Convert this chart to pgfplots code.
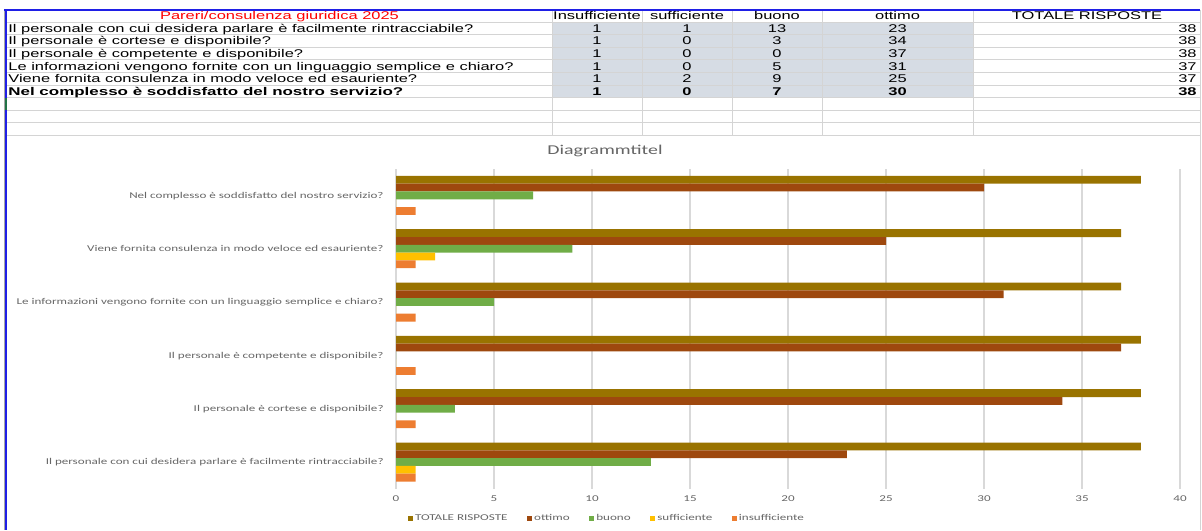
\documentclass[border=0pt]{standalone}
\usepackage{fontspec}
\usepackage{pgfplots}
\pgfplotsset{compat=1.18}
\newfontfamily\tabfont[FakeStretch=1.47]{Liberation Sans}
\newfontfamily\chartfont[FakeStretch=1.47]{Carlito}
\definecolor{cTot}{HTML}{997300}
\definecolor{cOtt}{HTML}{9E480E}
\definecolor{cBuo}{HTML}{70AD47}
\definecolor{cSuf}{HTML}{FFC000}
\definecolor{cIns}{HTML}{ED7D31}
\definecolor{cShade}{HTML}{D6DCE4}
\definecolor{gridc}{HTML}{D9D9D9}
\definecolor{tgrid}{HTML}{D4D4D4}
\definecolor{txtgray}{HTML}{666666}
\definecolor{xlblue}{HTML}{1F1FE6}
\definecolor{xlgreen}{HTML}{217346}
\newcommand\tf{\tabfont\fontsize{5.6pt}{6pt}\selectfont}
\newcommand\cf{\chartfont\fontsize{4.45pt}{5pt}\selectfont}
\newcommand\ttl{\chartfont\fontsize{6.75pt}{7pt}\selectfont}
\begin{document}
\begin{tikzpicture}
\useasboundingbox (0,0) rectangle (601pt,265pt);
\fill[white] (0,0) rectangle (601pt,265pt);
\begin{scope}[x=0.5pt,y=-0.5pt,shift={(0pt,265pt)}]
  \fill[cShade] (552,22.1) rectangle (973.5,97.7);
  \foreach \y in {22.1,34.7,47.3,59.9,72.5,85.1,97.7,110.3,122.9,135.5}
    \draw[tgrid,line width=0.5pt] (7,\y) -- (1200,\y);
  \foreach \x in {552,642,732,822,973.5,1200}
    \draw[tgrid,line width=0.5pt] (\x,10) -- (\x,135.5);
  \draw[tgrid,line width=0.5pt] (1200,135.5) -- (1200,530);
  \fill[gray!70] (4,10) rectangle (5.3,530);
  \fill[xlblue] (5.3,10) rectangle (7.3,530);
  \fill[xlblue] (4,9.3) rectangle (1200,10.8);
  \fill[xlgreen] (5.3,97.7) rectangle (7.3,110.3);
  % header
  \node[anchor=base,text=red,font=\tf,inner sep=0pt] at (279.5,20) {Pareri/consulenza giuridica 2025};
  \node[anchor=base,font=\tf,inner sep=0pt] at (597,20) {Insufficiente};
  \node[anchor=base,font=\tf,inner sep=0pt] at (687,20) {sufficiente};
  \node[anchor=base,font=\tf,inner sep=0pt] at (777,20) {buono};
  \node[anchor=base,font=\tf,inner sep=0pt] at (897.5,20) {ottimo};
  \node[anchor=base,font=\tf,inner sep=0pt] at (1087,20) {TOTALE RISPOSTE};
  % rows
  \foreach \yb/\lab/\a/\b/\c/\d/\t in {
    32.4/Il personale con cui desidera parlare è facilmente rintracciabile?/1/1/13/23/38,
    45.0/Il personale è cortese e disponibile?/1/0/3/34/38,
    57.6/Il personale è competente e disponibile?/1/0/0/37/38,
    70.2/Le informazioni vengono fornite con un linguaggio semplice e chiaro?/1/0/5/31/37,
    82.8/Viene fornita consulenza in modo veloce ed esauriente?/1/2/9/25/37}{
    \node[anchor=base west,font=\tf,inner sep=0pt] at (8,\yb) {\lab};
    \node[anchor=base,font=\tf,inner sep=0pt] at (597,\yb) {\a};
    \node[anchor=base,font=\tf,inner sep=0pt] at (687,\yb) {\b};
    \node[anchor=base,font=\tf,inner sep=0pt] at (777,\yb) {\c};
    \node[anchor=base,font=\tf,inner sep=0pt] at (897.5,\yb) {\d};
    \node[anchor=base east,font=\tf,inner sep=0pt] at (1197,\yb) {\t};
  }
  \node[anchor=base west,font=\tf\bfseries,inner sep=0pt,xscale=1.03] at (8,95.4) {Nel complesso è soddisfatto del nostro servizio?};
  \node[anchor=base,font=\tf\bfseries,inner sep=0pt] at (597,95.4) {1};
  \node[anchor=base,font=\tf\bfseries,inner sep=0pt] at (687,95.4) {0};
  \node[anchor=base,font=\tf\bfseries,inner sep=0pt] at (777,95.4) {7};
  \node[anchor=base,font=\tf\bfseries,inner sep=0pt] at (897.5,95.4) {30};
  \node[anchor=base east,font=\tf\bfseries,inner sep=0pt] at (1197,95.4) {38};
\end{scope}
\node[anchor=base,font=\ttl,text=txtgray,inner sep=0pt] at (302.5pt,187.8pt) {Diagrammtitel};
\begin{axis}[
  at={(198pt,20.65pt)}, anchor=south west,
  scale only axis, width=392pt, height=160pt,
  xmin=0, xmax=40, ymin=-0.5, ymax=5.5,
  xbar, bar width=3.9pt,
  xtick={0,5,...,40}, ytick={0,1,2,3,4,5},
  yticklabels={Il personale con cui desidera parlare è facilmente rintracciabile?,
    Il personale è cortese e disponibile?,
    Il personale è competente e disponibile?,
    Le informazioni vengono fornite con un linguaggio semplice e chiaro?,
    Viene fornita consulenza in modo veloce ed esauriente?,
    Nel complesso è soddisfatto del nostro servizio?},
  xmajorgrids, major grid style={gridc,line width=0.6pt},
  axis line style={draw=none}, major tick length=0pt,
  tick label style={font=\cf, text=txtgray},
  /pgf/number format/assume math mode=true,
  yticklabel style={anchor=base east, inner sep=0pt, xshift=-6pt, yshift=-1.43pt},
  xticklabel style={anchor=north, inner sep=0pt, yshift=-3.25pt},
  legend style={at={(0.269,-0.0945)}, anchor=center, draw=none, fill=none,
    legend columns=5, font=\cf,
    /tikz/every even column/.append style={column sep=8.5pt},
    nodes={inner sep=1.1pt, text=txtgray}},
  legend image code/.code={\fill[#1] (0pt,-1.25pt) rectangle (2.6pt,1.25pt);},
]
\addplot[fill=cTot, draw=none, bar shift=7.8pt] coordinates {(38,0) (38,1) (38,2) (37,3) (37,4) (38,5)};
\addlegendentry{TOTALE RISPOSTE}
\addplot[fill=cOtt, draw=none, bar shift=3.9pt] coordinates {(23,0) (34,1) (37,2) (31,3) (25,4) (30,5)};
\addlegendentry{ottimo}
\addplot[fill=cBuo, draw=none, bar shift=0pt] coordinates {(13,0) (3,1) (0,2) (5,3) (9,4) (7,5)};
\addlegendentry{buono}
\addplot[fill=cSuf, draw=none, bar shift=-3.9pt] coordinates {(1,0) (0,1) (0,2) (0,3) (2,4) (0,5)};
\addlegendentry{sufficiente}
\addplot[fill=cIns, draw=none, bar shift=-7.8pt] coordinates {(1,0) (1,1) (1,2) (1,3) (1,4) (1,5)};
\addlegendentry{insufficiente}
\end{axis}
\end{tikzpicture}
\end{document}
